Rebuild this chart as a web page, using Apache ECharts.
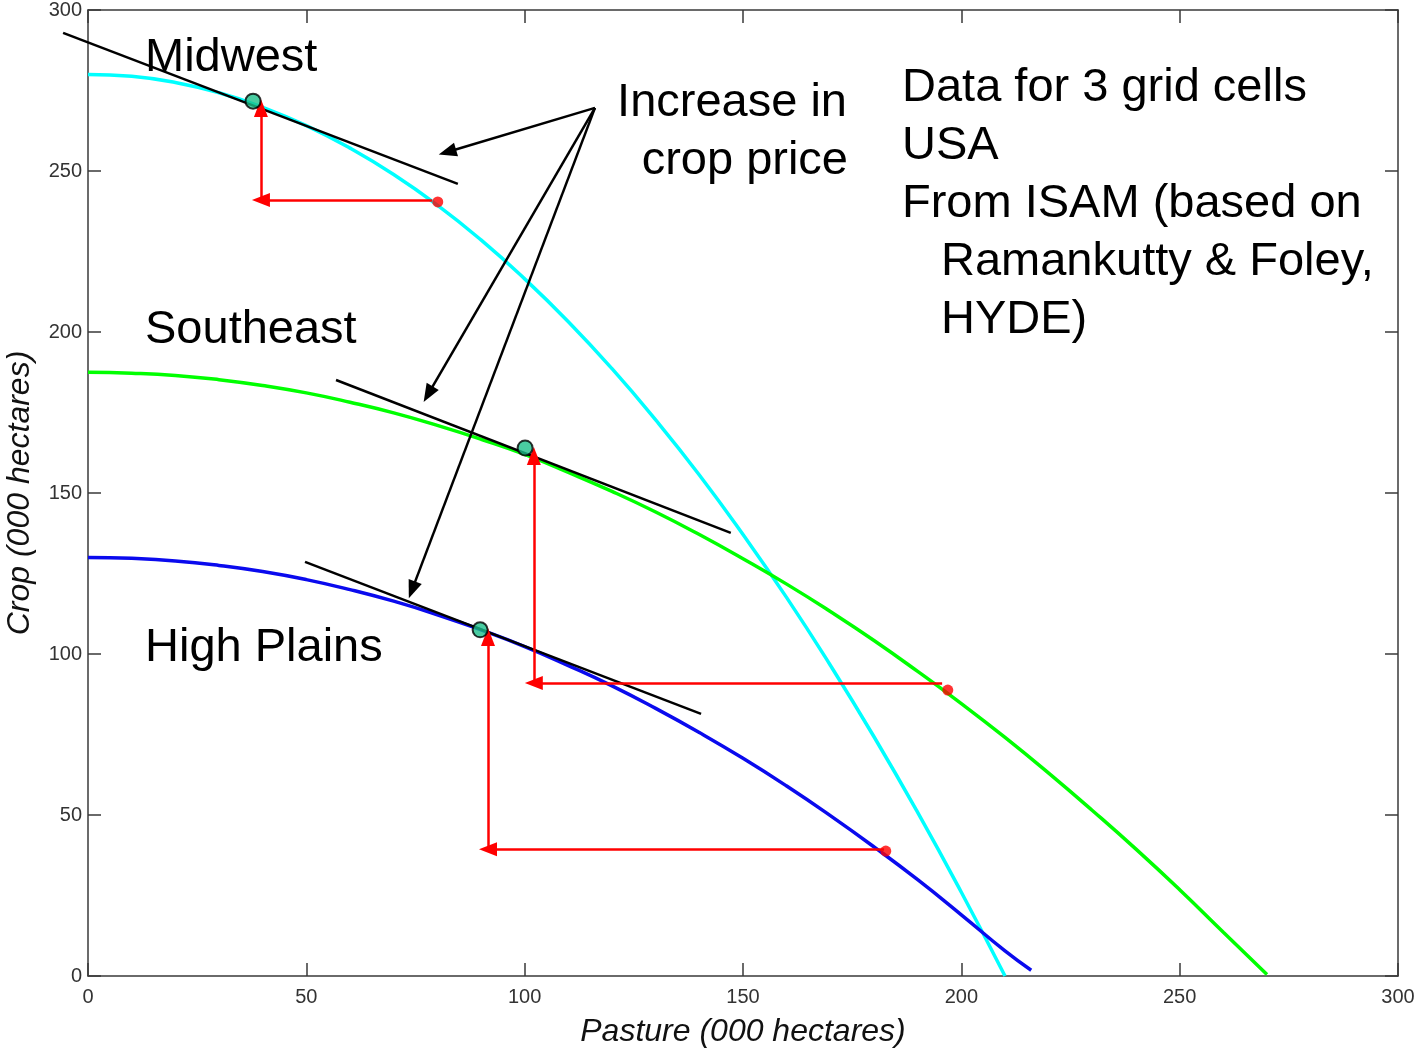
<!DOCTYPE html>
<html>
<head>
<meta charset="utf-8">
<script src="https://cdn.jsdelivr.net/npm/echarts@6/dist/echarts.min.js"></script>
<style>
html,body{margin:0;padding:0;background:#fff;}
#chart{width:1422px;height:1053px;}
</style>
</head>
<body>
<div id="chart"></div>
<script>
// ---- data ----
const xTicks = [0, 50, 100, 150, 200, 250, 300];
const yTicks = [0, 50, 100, 150, 200, 250, 300];

const midwestPasture = [0, 10, 20, 30, 40, 50, 60, 70, 80, 90, 100, 110, 120, 130, 140, 150, 160, 170, 180, 190, 200, 210];
const midwestCrop    = [280, 279.4, 277.5, 274.3, 269.8, 264.1, 257.1, 248.9, 239.4, 228.6, 216.5, 203.2, 188.6, 172.7, 155.6, 137.1, 117.5, 96.5, 74.3, 50.8, 26.0, 0];

const southeastPasture = [0, 10, 20, 30, 40, 50, 60, 70, 80, 90, 100, 110, 120, 130, 140, 150, 160, 170, 180, 190, 200, 210, 220, 230, 240, 250, 260, 270];
const southeastCrop    = [187.5, 187.2, 186.5, 185.2, 183.4, 181.1, 178.2, 174.9, 171.0, 166.7, 162.0, 156.4, 150.5, 144.1, 137.1, 129.6, 121.7, 113.2, 104.2, 94.6, 84.6, 74.1, 63.0, 51.4, 39.4, 26.8, 13.6, 0.5];

const plainsPasture = [0, 10, 20, 30, 40, 50, 60, 70, 80, 90, 100, 110, 120, 130, 140, 150, 160, 170, 180, 190, 200, 210, 216];
const plainsCrop    = [130, 129.7, 128.9, 127.5, 125.6, 123.1, 120.0, 116.4, 112.2, 107.5, 102.3, 96.4, 90.1, 83.1, 75.6, 67.6, 59.0, 49.8, 40.1, 29.9, 19.0, 7.8, 1.8];

const optimumPoints  = [[37.8, 271.7], [100.1, 164.0], [89.8, 107.5]];
const startPoints    = [[80.1, 240.4], [196.9, 88.8], [182.7, 38.8]];

const midwestTangent   = [[-5.7, 292.9], [84.7, 246.0]];
const southeastTangent = [[56.8, 185.1], [147.2, 137.6]];
const plainsTangent    = [[49.7, 128.6], [140.4, 81.4]];

// red shift arrows: [start, corner, tip]
const redArrows = [
  [[78.8, 241.0], [39.6, 241.0], [39.6, 269.6]],
  [[195.6, 91.0], [102.1, 91.0], [102.1, 161.5]],
  [[182.3, 39.4], [91.6, 39.4], [91.6, 105.3]]
];
const priceArrowOrigin = [116.1, 269.6];
const priceArrowTips = [[82.3, 255.9], [77.9, 180.7], [74.2, 119.9]];

// ---- chart ----
const zip = (xs, ys) => xs.map((x, i) => [x, ys[i]]);
const FONT = '"Liberation Sans", Arial, Helvetica, sans-serif';

const redLines = [];
redArrows.forEach(a => {
  redLines.push([{coord: a[0]}, {coord: a[1]}]);
  redLines.push([{coord: a[1]}, {coord: a[2]}]);
});
const blackLines = priceArrowTips.map(t => [{coord: priceArrowOrigin}, {coord: t}]);

const axisLine = {show: true, onZero: false, lineStyle: {color: '#3a3a3a', width: 1.5}};
const axisTick = {show: true, inside: true, length: 13, lineStyle: {color: '#3a3a3a', width: 1.5}};
const axisLabel = {color: '#333', fontSize: 20, fontFamily: FONT};

const textGraphics = [
  {type: 'text', x: 145, y: 58, style: {text: 'Midwest', font: '47px ' + FONT, fill: '#000', verticalAlign: 'middle'}, z: 10},
  {type: 'text', x: 145, y: 330, style: {text: 'Southeast', font: '47px ' + FONT, fill: '#000', verticalAlign: 'middle'}, z: 10},
  {type: 'text', x: 145, y: 648, style: {text: 'High Plains', font: '47px ' + FONT, fill: '#000', verticalAlign: 'middle'}, z: 10},
  {type: 'text', x: 847, y: 103, style: {text: 'Increase in', font: '47px ' + FONT, fill: '#000', align: 'right', verticalAlign: 'middle'}, z: 10},
  {type: 'text', x: 848, y: 161, style: {text: 'crop price', font: '47px ' + FONT, fill: '#000', align: 'right', verticalAlign: 'middle'}, z: 10},
  {type: 'text', x: 902, y: 88, style: {text: 'Data for 3 grid cells', font: '47px ' + FONT, fill: '#000', verticalAlign: 'middle'}, z: 10},
  {type: 'text', x: 902, y: 146, style: {text: 'USA', font: '47px ' + FONT, fill: '#000', verticalAlign: 'middle'}, z: 10},
  {type: 'text', x: 902, y: 204, style: {text: 'From ISAM (based on', font: '47px ' + FONT, fill: '#000', verticalAlign: 'middle'}, z: 10},
  {type: 'text', x: 941, y: 262, style: {text: 'Ramankutty & Foley,', font: '47px ' + FONT, fill: '#000', verticalAlign: 'middle'}, z: 10},
  {type: 'text', x: 941, y: 320, style: {text: 'HYDE)', font: '47px ' + FONT, fill: '#000', verticalAlign: 'middle'}, z: 10}
];

const chart = echarts.init(document.getElementById('chart'), null, {renderer: 'canvas'});
chart.setOption({
  animation: false,
  backgroundColor: '#fff',
  grid: {left: 88, right: 24, top: 10, bottom: 77, containLabel: false, outerBoundsMode: 'none'},
  xAxis: [
    {type: 'value', min: 0, max: 300, interval: 50, position: 'bottom',
     axisLine, axisTick, splitLine: {show: false},
     axisLabel: Object.assign({}, axisLabel, {margin: 11, formatter: v => xTicks.includes(v) ? String(v) : ''}),
     name: 'Pasture (000 hectares)', nameLocation: 'middle', nameGap: 40,
     nameTextStyle: {fontSize: 32, fontStyle: 'italic', color: '#111', fontFamily: FONT}},
    {type: 'value', min: 0, max: 300, interval: 50, position: 'top',
     axisLine, axisTick, axisLabel: {show: false}, splitLine: {show: false}}
  ],
  yAxis: [
    {type: 'value', min: 0, max: 300, interval: 50, position: 'left',
     axisLine, axisTick, splitLine: {show: false},
     axisLabel: Object.assign({}, axisLabel, {margin: 6, formatter: v => yTicks.includes(v) ? String(v) : ''}),
     name: 'Crop (000 hectares)', nameLocation: 'middle', nameGap: 52,
     nameTextStyle: {fontSize: 32, fontStyle: 'italic', color: '#111', fontFamily: FONT}},
    {type: 'value', min: 0, max: 300, interval: 50, position: 'right',
     axisLine, axisTick, axisLabel: {show: false}, splitLine: {show: false}}
  ],
  series: [
    {type: 'line', data: zip(midwestPasture, midwestCrop), smooth: true, showSymbol: false,
     lineStyle: {color: '#00ffff', width: 3.5}, z: 2, silent: true},
    {type: 'line', data: zip(southeastPasture, southeastCrop), smooth: true, showSymbol: false,
     lineStyle: {color: '#00ff00', width: 3.5}, z: 2, silent: true},
    {type: 'line', data: zip(plainsPasture, plainsCrop), smooth: true, showSymbol: false,
     lineStyle: {color: '#0a0aee', width: 3.5}, z: 2, silent: true},
    {type: 'scatter', data: [], z: 4, silent: true,
     markLine: {silent: true, symbol: ['none', 'triangle'], symbolSize: [14, 18],
       label: {show: false}, lineStyle: {color: '#ff0000', width: 2.5, type: 'solid'},
       emphasis: {disabled: true}, data: redLines}},
    {type: 'scatter', data: [], z: 4, silent: true,
     markLine: {silent: true, symbol: ['none', 'triangle'], symbolSize: [14, 18],
       label: {show: false}, lineStyle: {color: '#000', width: 2.5, type: 'solid'},
       emphasis: {disabled: true}, data: blackLines}},
    {type: 'scatter', data: startPoints, symbol: 'circle', symbolSize: 11,
     itemStyle: {color: '#ff0000'}, z: 5, silent: true},
    {type: 'scatter', data: optimumPoints, symbol: 'circle', symbolSize: 15,
     itemStyle: {color: '#1dbf8a', borderColor: '#000', borderWidth: 2}, z: 6, silent: true}
  ],
  graphic: textGraphics
});

// tangent lines drawn through the chart's own scales (may extend past the axis box)
const toPx = p => chart.convertToPixel({gridIndex: 0}, p);
const tangentGraphics = [midwestTangent, southeastTangent, plainsTangent].map(t => {
  const a = toPx(t[0]), b = toPx(t[1]);
  return {type: 'line', shape: {x1: a[0], y1: a[1], x2: b[0], y2: b[1]},
          style: {stroke: '#000', lineWidth: 2.5}, z: 3, silent: true};
});
chart.setOption({graphic: textGraphics.concat(tangentGraphics)});
</script>
</body>
</html>
